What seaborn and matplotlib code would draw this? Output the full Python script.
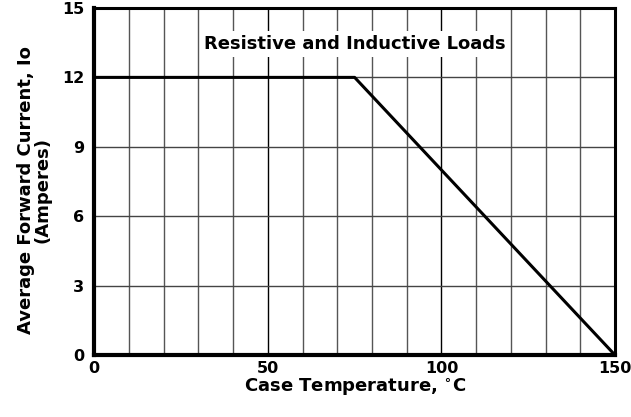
import numpy as np
import pandas as pd
import matplotlib
matplotlib.use("Agg")
import matplotlib.pyplot as plt
import seaborn as sns

# derating curve
temp_c = [0, 75, 150]
current_a = [12, 12, 0]

x_ticks = [0, 50, 100, 150]
y_ticks = [0, 3, 6, 9, 12, 15]
x_minor = list(range(0, 151, 10))

sns.set_theme(style="white")
plt.rcParams["font.family"] = ["DejaVu Sans"]
plt.rcParams["font.weight"] = "bold"
for key in ["text.color", "axes.labelcolor", "xtick.color", "ytick.color"]:
    plt.rcParams[key] = "black"

df = pd.DataFrame({"temp": temp_c, "current": current_a})

fig, ax = plt.subplots(figsize=(6.31, 4.17), dpi=100)
fig.subplots_adjust(left=0.149, right=0.975, top=0.981, bottom=0.148)

# grid
for xv in x_minor:
    col = "black" if xv in (50, 100) else "#555555"
    ax.axvline(xv, color=col, lw=1.0, zorder=1)
for yv in y_ticks:
    ax.axhline(yv, color="#444444", lw=1.0, zorder=1)

sns.lineplot(data=df, x="temp", y="current", color="black", lw=2.2, ax=ax, zorder=3)

ax.text(75, 13.45, "Resistive and Inductive Loads", ha="center", va="center",
        fontsize=13, fontweight="bold", zorder=4,
        bbox=dict(facecolor="white", edgecolor="none", pad=3))

ax.set_xlim(0, 150)
ax.set_ylim(0, 15)
ax.set_xticks(x_ticks)
ax.set_yticks(y_ticks)
ax.tick_params(axis="both", length=0, labelsize=11.5)
ax.tick_params(axis="y", pad=7)
ax.tick_params(axis="x", pad=4)
for lab in ax.get_xticklabels() + ax.get_yticklabels():
    lab.set_fontweight("bold")

ax.set_xlabel("Case Temperature, $^{\\circ}$C", fontsize=13, fontweight="bold")
ax.set_ylabel("Average Forward Current, Io\n(Amperes)", fontsize=13, fontweight="bold",
              linespacing=0.95)
ax.xaxis.set_label_coords(0.5, -0.063)
ax.yaxis.set_label_coords(-0.081, 0.475)

for side in ["left", "bottom"]:
    ax.spines[side].set_linewidth(3)
for side in ["top", "right"]:
    ax.spines[side].set_linewidth(2.2)
for sp in ax.spines.values():
    sp.set_color("black")
    sp.set_visible(True)
    sp.set_zorder(5)

fig.savefig("out.png", dpi=100)
